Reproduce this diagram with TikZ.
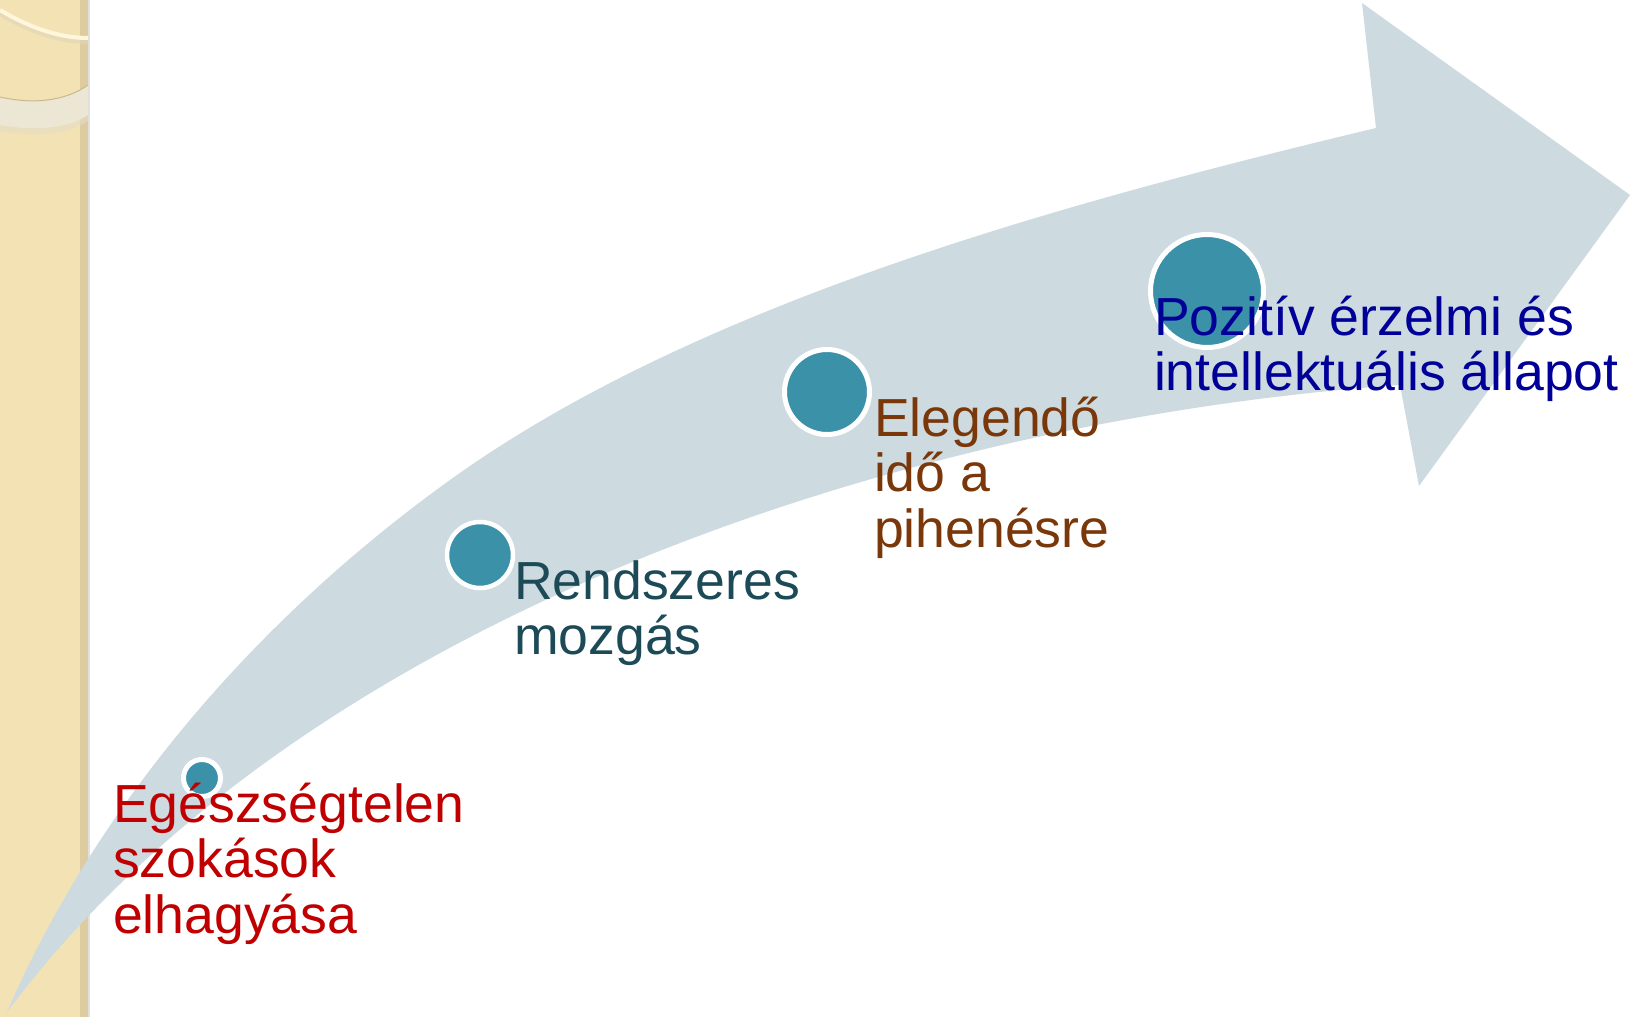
\documentclass[tikz,border=0pt]{standalone}
\usepackage{fontspec}
\setmainfont{Liberation Sans}
\definecolor{panel}{HTML}{F2E2B4}
\definecolor{paneledge}{HTML}{DCCCA0}
\definecolor{panelline}{HTML}{E2E0DA}
\definecolor{bandcol}{HTML}{ECE6D4}
\definecolor{bandedge}{HTML}{C9B98C}
\definecolor{creamline}{HTML}{FFF6DC}
\definecolor{arrowfill}{HTML}{CDDBE1}
\definecolor{teal}{HTML}{3A91A8}
\definecolor{tred}{HTML}{C00000}
\definecolor{tteal}{HTML}{1C4A57}
\definecolor{tbrown}{HTML}{7A380A}
\definecolor{tblue}{HTML}{000099}
\begin{document}
\begin{tikzpicture}[x=0.5pt,y=-0.5pt,
  lbl/.style={anchor=base west, inner sep=0pt, outer sep=0pt, align=left,
              font=\fontsize{26.8}{27.75}\selectfont},
  dot/.style={circle, fill=teal, draw=white, inner sep=0pt}]
\useasboundingbox (0,0) rectangle (1633,1017);
\fill[white] (0,0) rectangle (1633,1017);
% left decorative panel
\fill[panel] (0,0) rectangle (88,1017);
\fill[paneledge] (80,0) rectangle (88,1017);
\fill[panelline] (88,0) rectangle (90,1017);
% decorative arcs
\draw[bandedge!60, line width=2pt, opacity=0.6] (0,14) .. controls (30,32) and (60,42) .. (88,42);
\draw[creamline, line width=2pt] (0,10) .. controls (30,28) and (60,38) .. (88,38);
\fill[bandedge!50, opacity=0.6] (0,125) .. controls (40,132) and (70,127) .. (88,115)
  -- (88,121) .. controls (70,133) and (40,138) .. (0,131) -- cycle;
\fill[bandcol] (0,97) .. controls (40,106) and (70,98) .. (88,85)
  -- (88,115) .. controls (70,127) and (40,132) .. (0,125) -- cycle;
\draw[bandedge, line width=0.5pt] (0,97) .. controls (40,106) and (70,98) .. (88,85);
% curved arrow
\coordinate (tail) at (7,1012);
\coordinate (mid) at (450,480);
\coordinate (notchU) at (1376,128);
\coordinate (headT) at (1362,3);
\coordinate (tip) at (1630,195);
\coordinate (headB) at (1419,486);
\coordinate (notchL) at (1400,385);
\fill[arrowfill] (tail)
  .. controls (107,782) and (280,602) .. (mid)
  .. controls (700,300) and (1076,200) .. (notchU)
  -- (headT) -- (tip) -- (headB) -- (notchL)
  .. controls (900,420) and (300,620) .. (tail)
  -- cycle;
% circles
\node[dot, minimum size=18.5pt, line width=2.5pt] (c1) at (202,778) {};
\node[dot, minimum size=33pt, line width=2.25pt] (c2) at (480,555) {};
\node[dot, minimum size=42.5pt, line width=2.5pt] (c3) at (827,392) {};
\node[dot, minimum size=56.5pt, line width=2.5pt] (c4) at (1207,291) {};
% labels (base = last line)
\node[lbl, text=tred] (t1) at (113,933) {Egészségtelen\\szokások\\elhagyása};
\node[lbl, text=tteal] (t2) at (514,654.5) {Rendszeres\\mozgás};
\node[lbl, text=tbrown] (t3) at (874,547) {Elegendő\\idő a\\pihenésre};
\node[lbl, text=tblue] (t4) at (1154,390.5) {Pozitív érzelmi és\\intellektuális állapot};
\end{tikzpicture}
\end{document}
